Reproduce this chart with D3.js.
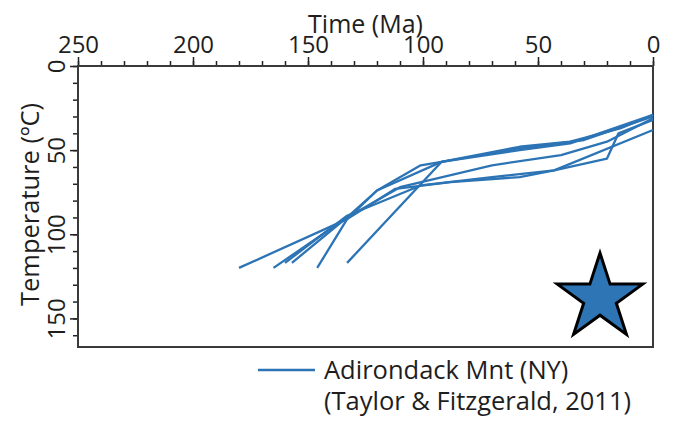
<!DOCTYPE html>
<html lang="en">
<head>
    <meta charset="UTF-8">
    <title>Adirondack Mnt tT paths</title>
    <script src="https://cdn.jsdelivr.net/npm/d3@7"></script>
    <style>
        body { margin: 0; background: #fff; }
        text { font-family: "Open Sans", sans-serif; fill: #1e1e1e; }
    </style>
</head>
<body>
    <svg width="679" height="425"></svg>

    <script>
        // time-temperature paths, [Ma, degC]
        var path1 = [[180,120],[133,91],[112,73],[88,69],[58,66],[43,62],[20,55],[15,40],[0,32]]
        var path2 = [[165,120],[133,90],[120,74],[101,59],[92,57],[58,48],[36,45],[14,37],[0,29]]
        var path3 = [[157,117],[133,90],[110,72],[70,59],[40,53],[20,45],[0,31]]
        var path4 = [[146,120],[133,91],[120,74],[92,57],[58,49],[30,44],[0,30]]
        var path5 = [[133,117],[92,57],[58,50],[36,46],[0,29]]
        var path6 = [[160,117],[133,89],[101,71],[70,66],[43,62],[0,38]]
        var paths = [path1, path2, path3, path4, path5, path6]

        var xTicks = [250, 200, 150, 100, 50, 0]
        var yTicks = [0, 50, 100, 150]
        var legendLines = ['Adirondack Mnt (NY)', '(Taylor & Fitzgerald, 2011)']

        var blue = '#2c74b5'
        var svg = d3.select('svg')

        // plot box (top is a reserved window name, so use m*)
        var mL = 78, mR = 653, mT = 66, mB = 347

        var x = d3.scaleLinear().domain([250, 0]).range([mL, mR])
        var y = d3.scaleLinear().domain([0, 167]).range([mT, mB])

        // minor ticks every 10
        svg.append('g').attr('transform', 'translate(0,' + mT + ')')
            .call(d3.axisTop(x).tickValues(d3.range(0, 251, 10)).tickSize(5).tickFormat(''))
            .call(g => g.select('.domain').remove())
            .call(g => g.selectAll('line').attr('stroke', '#222').attr('stroke-width', 1.5))
        svg.append('g').attr('transform', 'translate(' + mL + ',0)')
            .call(d3.axisLeft(y).tickValues(d3.range(0, 161, 10)).tickSize(5).tickFormat(''))
            .call(g => g.select('.domain').remove())
            .call(g => g.selectAll('line').attr('stroke', '#222').attr('stroke-width', 1.5))

        // major ticks + labels
        var xAxis = svg.append('g').attr('transform', 'translate(0,' + mT + ')')
            .call(d3.axisTop(x).tickValues(xTicks).tickSize(9).tickPadding(5))
        xAxis.select('.domain').remove()
        xAxis.selectAll('line').attr('stroke', '#222').attr('stroke-width', 1.5)
        xAxis.selectAll('text').attr('font-size', 24).attr('fill', '#1e1e1e')
            .attr('y', -13).attr('dy', 0)

        var yAxis = svg.append('g').attr('transform', 'translate(' + mL + ',0)')
            .call(d3.axisLeft(y).tickValues(yTicks).tickSize(8))
        yAxis.select('.domain').remove()
        yAxis.selectAll('line').attr('stroke', '#222').attr('stroke-width', 1.5)
        yAxis.selectAll('text').attr('font-size', 24).attr('fill', '#1e1e1e')
            .attr('x', 0).attr('dy', 0).attr('text-anchor', 'middle')
            .attr('transform', 'translate(-13,0) rotate(-90)')

        // frame
        svg.append('rect')
            .attr('x', mL).attr('y', mT)
            .attr('width', mR - mL).attr('height', mB - mT)
            .attr('fill', 'none').attr('stroke', '#3a3a3a').attr('stroke-width', 2)

        // axis titles
        svg.append('text').attr('x', (mL + mR) / 2).attr('y', 33)
            .attr('text-anchor', 'middle').attr('font-size', 25).text('Time (Ma)')
        svg.append('text')
            .attr('transform', 'translate(39,' + ((mT + mB) / 2 - 2) + ') rotate(-90)')
            .attr('text-anchor', 'middle').attr('font-size', 25.5).text('Temperature (ºC)')

        // paths
        var line = d3.line().x(d => x(d[0])).y(d => y(d[1]))
        svg.append('g').selectAll('path').data(paths).enter().append('path')
            .attr('d', line)
            .attr('fill', 'none')
            .attr('stroke', blue)
            .attr('stroke-width', 2.3)
            .attr('stroke-linejoin', 'round')

        // star marker
        svg.append('path')
            .attr('d', d3.symbol(d3.symbolStar, 2270)())
            .attr('transform', 'translate(600,298)')
            .attr('fill', '#2e75b6').attr('stroke', '#000').attr('stroke-width', 3)
            .attr('stroke-linejoin', 'miter')

        // legend
        var lg = svg.append('g').attr('transform', 'translate(258,370)')
        lg.append('line').attr('x1', 0).attr('x2', 57).attr('y1', 0).attr('y2', 0)
            .attr('stroke', blue).attr('stroke-width', 2.5)
        lg.selectAll('text.lg').data(legendLines).enter().append('text')
            .attr('x', 66).attr('y', (d, i) => 9 + i * 31)
            .attr('font-size', 25.5)
            .text(d => d)
    </script>
</body>
</html>
